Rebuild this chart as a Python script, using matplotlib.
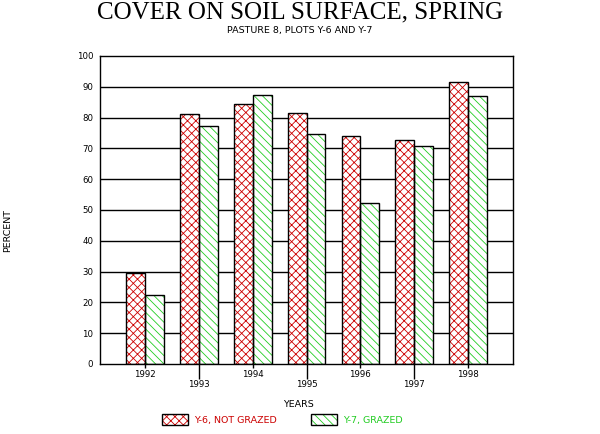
import numpy as np
import matplotlib.pyplot as plt
from matplotlib.patches import Patch

years = ["1992", "1993", "1994", "1995", "1996", "1997", "1998"]
not_grazed = [29.4, 81.1, 84.3, 81.5, 74.0, 72.7, 91.7]   # Y-6
grazed = [22.3, 77.2, 87.2, 74.7, 52.4, 70.8, 86.9]       # Y-7

plt.rcParams['font.family'] = ['DejaVu Sans']
plt.rcParams['hatch.linewidth'] = 0.6

fig = plt.figure(figsize=(6, 4.34), dpi=100)
ax = fig.add_axes([0.1667, 0.1613, 0.6883, 0.7097])

x = np.arange(len(years))
w = 0.35
red = "#cc0000"
green = "#22cc22"

# gridlines behind the bars
for v in range(10, 100, 10):
    ax.axhline(v, color="black", lw=1, zorder=1)

# hatch layer, then outline layer (hatch has its own colour, edge is black)
ax.bar(x - w/2, not_grazed, w, color="white", edgecolor=red, hatch="xxxx", lw=0, zorder=2)
ax.bar(x + w/2, grazed, w, color="white", edgecolor=green, hatch="\\\\\\\\", lw=0, zorder=2)
ax.bar(x - w/2, not_grazed, w, fill=False, edgecolor="black", lw=1, zorder=3)
ax.bar(x + w/2, grazed, w, fill=False, edgecolor="black", lw=1, zorder=3)

ax.set_xlim(-0.835, len(years) - 1 + 0.835)
ax.set_ylim(0, 100)
ax.set_yticks(range(0, 101, 10))
ax.tick_params(axis='y', length=0, labelsize=6.2, pad=5)

# alternate year labels: even positions short ticks, odd positions long ticks
ax.set_xticks(x[::2], [years[i] for i in x[::2]])
ax.set_xticks(x[1::2], [years[i] for i in x[1::2]], minor=True)
ax.tick_params(axis='x', which='major', length=3, labelsize=6.2, pad=1, width=1)
ax.tick_params(axis='x', which='minor', length=10.5, labelsize=6.2, pad=1, width=1)

for s in ax.spines.values():
    s.set_linewidth(1)

fig.text(0.5, 0.972, "COVER ON SOIL SURFACE, SPRING", ha="center", va="center",
         family="Liberation Serif", fontsize=18)
fig.text(0.5, 0.929, "PASTURE 8, PLOTS Y-6 AND Y-7", ha="center", va="center", fontsize=6.8)
fig.text(0.012, 0.47, "PERCENT", rotation=90, ha="center", va="center", fontsize=6.8)
fig.text(0.497, 0.069, "YEARS", ha="center", va="center", fontsize=6.8)

h1 = (Patch(facecolor="white", edgecolor=red, hatch="xxxx", lw=0),
      Patch(fill=False, edgecolor="black", lw=1))
h2 = (Patch(facecolor="white", edgecolor=green, hatch="\\\\\\\\", lw=0),
      Patch(fill=False, edgecolor="black", lw=1))
fig.legend([h1, h2], ["Y-6, NOT GRAZED", "Y-7, GRAZED"], loc="center",
           bbox_to_anchor=(0.47, 0.033), ncol=2, frameon=False, fontsize=6.8,
           labelcolor=[red, green], handlelength=2.8, handleheight=1.4,
           columnspacing=3.6, handletextpad=0.6)

fig.savefig("out.png", dpi=100)
